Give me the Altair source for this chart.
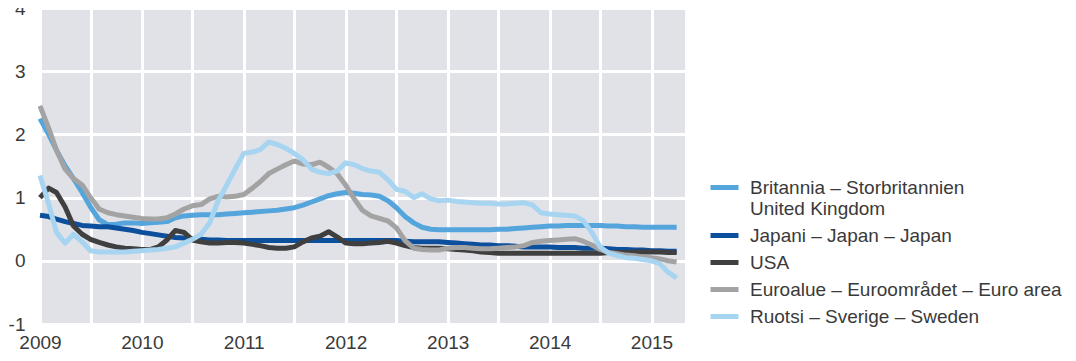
import altair as alt
import pandas as pd

months = pd.date_range("2009-01-01", "2015-04-01", freq="MS").strftime("%Y-%m-%d").tolist()

series_names = [
    "Britannia – Storbritannien|United Kingdom",
    "Japani – Japan – Japan",
    "USA",
    "Euroalue – Euroområdet – Euro area",
    "Ruotsi – Sverige – Sweden",
]
series_colors = ["#55a5dd", "#0c4f9d", "#3f3f3f", "#a3a3a3", "#a7d4f1"]

uk = [2.25, 2.0, 1.75, 1.5, 1.3, 1.08, 0.85, 0.65, 0.57, 0.58, 0.6, 0.6,
      0.59, 0.6, 0.61, 0.62, 0.68, 0.71, 0.72, 0.73, 0.73, 0.73, 0.74, 0.75,
      0.76, 0.77, 0.78, 0.79, 0.8, 0.82, 0.84, 0.88, 0.93, 0.98, 1.03, 1.06,
      1.08, 1.07, 1.05, 1.04, 1.02, 0.95, 0.84, 0.7, 0.6, 0.53, 0.5, 0.49,
      0.49, 0.49, 0.49, 0.49, 0.49, 0.49, 0.5, 0.5, 0.51, 0.52, 0.53, 0.54,
      0.55, 0.55, 0.56, 0.56, 0.56, 0.56, 0.56, 0.55, 0.55, 0.54, 0.54, 0.53,
      0.53, 0.53, 0.53, 0.53]

japan = [0.72, 0.7, 0.66, 0.62, 0.59, 0.56, 0.55, 0.54, 0.54, 0.52, 0.5, 0.48,
         0.45, 0.43, 0.41, 0.39, 0.37, 0.36, 0.35, 0.34, 0.33, 0.33, 0.32, 0.32,
         0.32, 0.32, 0.32, 0.32, 0.32, 0.32, 0.32, 0.32, 0.32, 0.32, 0.32, 0.32,
         0.32, 0.32, 0.32, 0.32, 0.32, 0.32, 0.32, 0.31, 0.3, 0.3, 0.3, 0.3,
         0.29, 0.28, 0.27, 0.26, 0.25, 0.25, 0.24, 0.24, 0.23, 0.22, 0.22, 0.22,
         0.22, 0.21, 0.21, 0.21, 0.2, 0.2, 0.2, 0.19, 0.18, 0.18, 0.17, 0.17,
         0.16, 0.16, 0.15, 0.15]

usa = [1.0, 1.15, 1.08, 0.85, 0.55, 0.42, 0.34, 0.29, 0.25, 0.22, 0.2, 0.19,
       0.18, 0.18, 0.22, 0.33, 0.48, 0.45, 0.33, 0.3, 0.28, 0.28, 0.29, 0.29,
       0.28, 0.26, 0.24, 0.21, 0.2, 0.2, 0.22, 0.3, 0.36, 0.39, 0.46, 0.38,
       0.28, 0.27, 0.27, 0.28, 0.29, 0.31, 0.28, 0.24, 0.21, 0.2, 0.2, 0.2,
       0.19, 0.18, 0.17, 0.16, 0.14, 0.13, 0.12, 0.12, 0.12, 0.12, 0.12, 0.12,
       0.12, 0.12, 0.12, 0.12, 0.12, 0.12, 0.12, 0.13, 0.13, 0.13, 0.14, 0.14,
       0.14, 0.14, 0.13, 0.13]

euro = [2.45, 2.1, 1.75, 1.45, 1.3, 1.2, 1.0, 0.82, 0.76, 0.73, 0.71, 0.69,
        0.67, 0.66, 0.66, 0.68, 0.74, 0.82, 0.87, 0.89, 0.98, 1.02, 1.01, 1.02,
        1.05, 1.15, 1.25, 1.38, 1.45, 1.52, 1.58, 1.53, 1.52, 1.56, 1.48, 1.38,
        1.2, 0.98, 0.8, 0.71, 0.67, 0.63, 0.52, 0.32, 0.2, 0.18, 0.17, 0.17,
        0.2, 0.21, 0.21, 0.2, 0.19, 0.19, 0.2, 0.21, 0.22, 0.24, 0.29, 0.31,
        0.32, 0.33, 0.34, 0.35, 0.31, 0.25, 0.18, 0.13, 0.11, 0.09, 0.08, 0.06,
        0.05, 0.03, 0.0, -0.02]

sweden = [1.35, 0.9, 0.45, 0.28, 0.42, 0.3, 0.16, 0.14, 0.14, 0.14, 0.14, 0.15,
          0.16, 0.17, 0.18, 0.2, 0.22, 0.28, 0.34, 0.42, 0.6, 0.95, 1.2, 1.45,
          1.7, 1.72, 1.76, 1.88, 1.84, 1.78, 1.7, 1.6, 1.45, 1.4, 1.38, 1.42,
          1.55, 1.52, 1.46, 1.42, 1.4, 1.28, 1.13, 1.1, 1.0, 1.06, 0.98, 0.95,
          0.96, 0.94, 0.93, 0.92, 0.91, 0.91, 0.9, 0.9, 0.91, 0.92, 0.88, 0.76,
          0.74, 0.73, 0.72, 0.71, 0.64, 0.45, 0.22, 0.12, 0.08, 0.05, 0.04, 0.02,
          0.0, -0.05, -0.18, -0.27]

all_values = [uk, japan, usa, euro, sweden]

rows = []
for name, vals in zip(series_names, all_values):
    for d, v in zip(months, vals):
        rows.append({"date": d, "value": v, "series": name})
df = pd.DataFrame(rows)

grid_ticks = pd.date_range("2009-01-01", "2015-01-01", freq="6MS")
grid_ms = [int(t.value // 10**6) for t in grid_ticks]

text_color = "#3a3a3a"
font_size = 19

chart = (
    alt.Chart(df)
    .mark_line(strokeWidth=5, strokeJoin="round", strokeCap="butt")
    .encode(
        x=alt.X(
            "date:T",
            scale=alt.Scale(type="utc", domain=["2009-01-01", "2015-05-01"]),
            axis=alt.Axis(
                title=None,
                values=grid_ms,
                labelExpr="utcFormat(datum.value, '%m') == '01' ? utcFormat(datum.value, '%Y') : ''",
                grid=True,
                gridColor="white",
                gridWidth=3,
                ticks=False,
                domain=False,
                labelFontSize=font_size,
                labelColor=text_color,
                labelPadding=9,
                labelFlush=False,
            ),
        ),
        y=alt.Y(
            "value:Q",
            scale=alt.Scale(domain=[-1, 4], nice=False),
            axis=alt.Axis(
                title=None,
                values=[-1, 0, 1, 2, 3, 4],
                labelExpr="datum.value < 0 ? '-' + abs(datum.value) : datum.label",
                grid=True,
                gridColor="white",
                gridWidth=3,
                ticks=False,
                domain=False,
                labelFontSize=font_size,
                labelColor=text_color,
                labelPadding=15,
            ),
        ),
        color=alt.Color(
            "series:N",
            scale=alt.Scale(domain=series_names, range=series_colors),
            sort=series_names,
            legend=alt.Legend(
                title=None,
                orient="none",
                legendX=668,
                legendY=163,
                symbolType="stroke",
                symbolStrokeWidth=5,
                symbolSize=784,
                labelFontSize=font_size,
                labelColor=text_color,
                labelLimit=500,
                labelOffset=9,
                rowPadding=0,
                labelExpr="split(datum.label, '|')",
            ),
        ),
        order=alt.Order("date:T"),
    )
    .properties(
        width=645,
        height=316,
        autosize=alt.AutoSizeParams(type="none"),
        padding={"left": 32, "top": 0, "right": 383, "bottom": 29},
    )
    .configure(font="Liberation Sans")
    .configure_view(fill="#e1e2e7", stroke=None)
)

chart.save("out.html", embed_options={"renderer": "svg", "actions": False})
